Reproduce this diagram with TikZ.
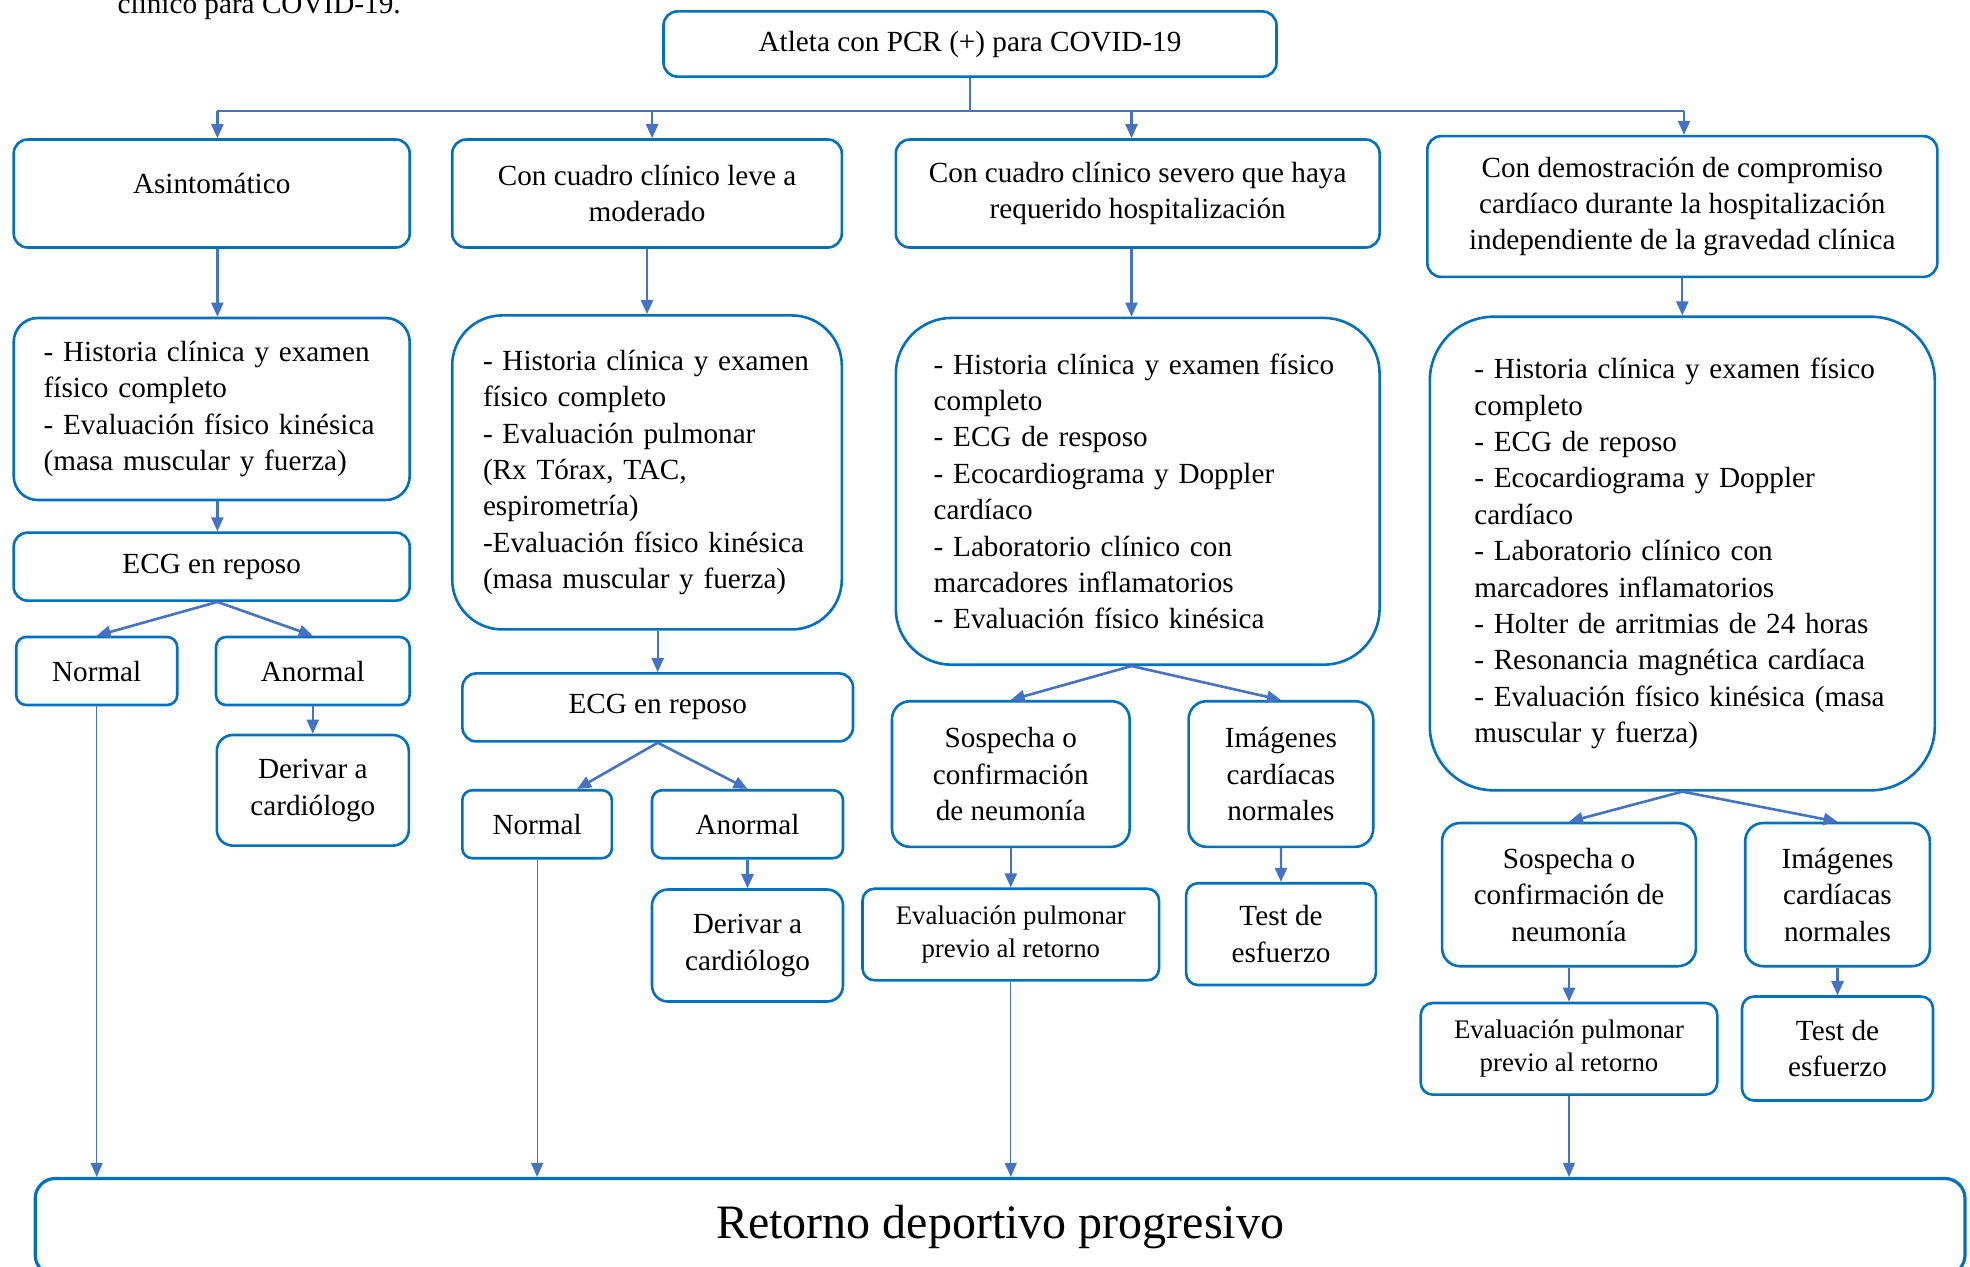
\documentclass[tikz,border=0pt]{standalone}
\usepackage{fontspec}
\setmainfont{Liberation Serif}
\usepackage{tikz}
\usetikzlibrary{
    arrows.meta,
    positioning,
    calc
}
\definecolor{BoxBlue}{RGB}{0,112,192}
\definecolor{ArrowBlue}{RGB}{68,114,196}
\newcommand{\fbody}{\fontsize{14.6pt}{18.2pt}\selectfont}
\newcommand{\fsml}{\fontsize{13.4pt}{16.3pt}\selectfont}
\newcommand{\ftitle}{\fontsize{24pt}{29pt}\selectfont}
\tikzset{
  block/.style = {draw=BoxBlue, line width=1.3pt, rounded corners=7pt,
                  align=center, font=\fbody, inner sep=2pt},
  sblock/.style = {block, rounded corners=5pt, minimum height=34pt},
  lbox/.style  = {block, align=left, inner sep=0pt},
  arr/.style   = {-{Triangle[length=7pt,width=6pt]}, ArrowBlue, line width=1.1pt},
  fan/.style   = {arr, line width=1.3pt},
  lnk/.style   = {arr, line width=0.6pt}
}

\begin{document}
\begin{tikzpicture}[x=0.5pt, y=-0.5pt]
\useasboundingbox (0,0) rectangle (1970,1266);

% caption line, cut by the page top
\node[anchor=base west, font=\fbody] (cap) at (110.6,13) {clínico para COVID-19.};

\node[block, minimum width=306.5pt, minimum height=32.6pt] (pcr) at (970,44)
    {Atleta con PCR (+) para COVID-19};

% column heads
\node[block, minimum width=198pt, minimum height=54pt, text depth=10pt] (asin) at (211.7,193.5)
    {Asintomático};
\node[block, minimum width=194.8pt, minimum height=54pt] (leve) at (647,193.5)
    {Con cuadro clínico leve a\\ moderado};
\node[block, minimum width=241.9pt, minimum height=54pt] (sev) at (1137.7,193.5)
    {Con cuadro clínico severo que haya\\ requerido hospitalización};
\node[block, minimum width=255pt, minimum height=70.4pt] (card) at (1682.3,206.5)
    {Con demostración de compromiso\\ cardíaco durante la hospitalización\\ independiente de la gravedad clínica};

% evaluations
\node[lbox, minimum width=198pt, minimum height=91pt, rounded corners=12pt,
      text width=168pt] (ev1) at (211.7,409)
    {\makebox[168pt][s]{- Historia clínica y examen}\\ físico completo\\
     \makebox[168pt][s]{- Evaluación físico kinésica}\\ (masa muscular y fuerza)};
\node[lbox, minimum width=194.8pt, minimum height=157pt, rounded corners=25pt,
      text width=164pt] (ev2) at (647,472.4)
    {- Historia clínica y examen\\ físico completo\\ - Evaluación pulmonar\\
     (Rx Tórax, TAC,\\ espirometría)\\ -Evaluación físico kinésica\\ (masa muscular y fuerza)};
\node[lbox, minimum width=241.9pt, minimum height=173.4pt, rounded corners=28pt,
      text width=204pt] (ev3) at (1137.7,491.3)
    {- Historia clínica y examen físico\\ completo\\ - ECG de resposo\\
     - Ecocardiograma y Doppler\\ cardíaco\\ - Laboratorio clínico con\\
     marcadores inflamatorios\\ - Evaluación físico kinésica};
\node[lbox, minimum width=252.5pt, minimum height=236.8pt, rounded corners=32pt,
      text width=208pt] (ev4) at (1682.3,553.5)
    {- Historia clínica y examen físico\\ completo\\ - ECG de reposo\\
     - Ecocardiograma y Doppler\\ cardíaco\\ - Laboratorio clínico con\\
     marcadores inflamatorios\\ - Holter de arritmias de 24 horas\\
     - Resonancia magnética cardíaca\\ - Evaluación físico kinésica (masa\\
     muscular y fuerza)};

% column 1
\node[sblock, minimum width=198pt, rounded corners=7pt] (ecg1) at (211.7,566.6) {ECG en reposo};
\node[sblock, minimum width=80.5pt] (nor1) at (96.7,671) {Normal};
\node[sblock, minimum width=96.8pt] (anor1) at (312.8,671) {Anormal};
\node[block, minimum width=96pt, minimum height=55.3pt, rounded corners=8pt] (der1)
    at (312.8,790.3) {Derivar a\\ cardiólogo};

% column 2
\node[sblock, minimum width=195.3pt, rounded corners=7pt] (ecg2) at (657.7,707.4) {ECG en reposo};
\node[sblock, minimum width=74.8pt] (nor2) at (537.1,824.2) {Normal};
\node[sblock, minimum width=95.5pt] (anor2) at (747.5,824.2) {Anormal};
\node[block, minimum width=95.5pt, minimum height=56pt, rounded corners=8pt] (der2)
    at (747.5,945.5) {Derivar a\\ cardiólogo};

% column 3
\node[block, minimum width=118.8pt, minimum height=72.8pt, rounded corners=9pt] (neu3)
    at (1010.8,774) {Sospecha o\\ confirmación\\ de neumonía};
\node[block, minimum width=92.3pt, minimum height=72.8pt, rounded corners=9pt] (img3)
    at (1280.9,774) {Imágenes\\ cardíacas\\ normales};
\node[block, font=\fsml, minimum width=148.3pt, minimum height=45.8pt, rounded corners=6pt] (pul3)
    at (1010.8,934.5) {Evaluación pulmonar\\ previo al retorno};
\node[block, minimum width=94.9pt, minimum height=50.9pt, rounded corners=6pt] (test3)
    at (1281,934.1) {Test de\\ esfuerzo};

% column 4
\node[block, minimum width=126.9pt, minimum height=71.6pt, rounded corners=9pt] (neu4)
    at (1569,894.6) {Sospecha o\\ confirmación de\\ neumonía};
\node[block, minimum width=92.3pt, minimum height=71.6pt, rounded corners=9pt] (img4)
    at (1837.5,894.6) {Imágenes\\ cardíacas\\ normales};
\node[block, font=\fsml, minimum width=148.3pt, minimum height=45.8pt, rounded corners=6pt] (pul4)
    at (1569,1048.8) {Evaluación pulmonar\\ previo al retorno};
\node[block, minimum width=95.5pt, minimum height=52pt, rounded corners=6pt] (test4)
    at (1837.5,1048.5) {Test de\\ esfuerzo};

\node[block, font=\ftitle, line width=1.6pt, rounded corners=10pt,
      minimum width=964.9pt, minimum height=48.25pt] (ret) at (1000.1,1226.75)
    {Retorno deportivo progresivo};

% split to the four columns
\coordinate (split) at (970,110.6);
\coordinate (sp1) at (217.4,0);
\coordinate (sp2) at (652.1,0);
\coordinate (sp3) at (1131.5,0);
\coordinate (sp4) at (1684,0);
\draw[lnk, -] (pcr) -- (split);
\draw[arr, -] (split -| sp1) -- (split -| sp4);
\draw[arr] (split -| sp1) -- (sp1 |- asin.north);
\draw[arr] (split -| sp2) -- (sp2 |- leve.north);
\draw[arr] (split -| sp3) -- (sp3 |- sev.north);
\draw[arr] (split -| sp4) -- (sp4 |- card.north);

\draw[arr] (sp1 |- asin.south) -- (sp1 |- ev1.north);
\draw[arr] (sp1 |- ev1.south) -- (sp1 |- ecg1.north);
\draw[arr] (anor1) -- (der1);
\draw[arr] (leve) -- (ev2);
\draw[arr] (ev2.south -| ecg2.north) -- (ecg2.north);
\draw[arr] (anor2) -- (der2);
\draw[arr] (sp3 |- sev.south) -- (sp3 |- ev3.north);
\draw[arr] (neu3) -- (pul3);
\draw[arr] (img3) -- (test3);
\draw[arr] (card) -- (ev4);
\draw[arr] (neu4) -- (pul4);
\draw[arr] (img4) -- (test4);

\draw[fan] (sp1 |- ecg1.south) -- (nor1.north);
\draw[fan] (sp1 |- ecg1.south) -- (anor1.north);
\draw[fan] (ecg2.south) -- ([xshift=20pt]nor2.north);
\draw[fan] (ecg2.south) -- (anor2.north);
\draw[fan] (sp3 |- ev3.south) -- (neu3.north);
\draw[fan] (sp3 |- ev3.south) -- (img3.north);
\draw[fan] (ev4.south) -- (neu4.north);
\draw[fan] (ev4.south) -- (img4.north);

\foreach \c in {nor1,nor2,pul3,pul4}
  \draw[lnk] (\c) -- (\c |- ret.north);
\end{tikzpicture}
\end{document}
